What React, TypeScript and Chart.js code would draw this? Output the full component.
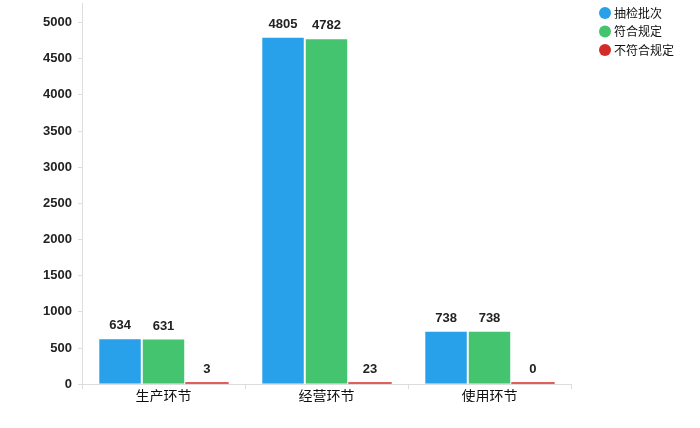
import { Chart, registerables } from "chart.js";
import { useEffect, useRef } from "react";

Chart.register(...registerables);

const categories = ["生产环节", "经营环节", "使用环节"];
const sampled = [634, 4805, 738];
const passed = [631, 4782, 738];
const failed = [3, 23, 0];
const seriesNames = ["抽检批次", "符合规定", "不符合规定"];
const colors = ["#29a0ea", "#45c46f", "#d42a2a"];
const yTicks = [0, 500, 1000, 1500, 2000, 2500, 3000, 3500, 4000, 4500, 5000];

const valueLabels = {
  id: "valueLabels",
  afterDatasetsDraw(chart: Chart) {
    const ctx = chart.ctx;
    ctx.save();
    ctx.font = "bold 13px Arial, 'Liberation Sans', sans-serif";
    ctx.fillStyle = "#222";
    ctx.textAlign = "center";
    ctx.textBaseline = "bottom";
    chart.data.datasets.forEach((ds, i) => {
      const meta = chart.getDatasetMeta(i);
      meta.data.forEach((bar: any, j) => {
        const v = ds.data[j] as number;
        const top = Math.min(bar.y, bar.base);
        ctx.fillText(String(v), bar.x, top - 6);
      });
    });
    ctx.restore();
  },
};

// legend drawn at the top right corner
const cornerLegend = {
  id: "cornerLegend",
  afterDraw(chart: Chart) {
    const ctx = chart.ctx;
    ctx.save();
    ctx.font = "12px 'Noto Sans CJK SC'";
    ctx.textBaseline = "middle";
    ctx.textAlign = "left";
    seriesNames.forEach((name, i) => {
      const y = 13 + i * 18.5;
      ctx.beginPath();
      ctx.arc(605, y, 6, 0, Math.PI * 2);
      ctx.fillStyle = colors[i];
      ctx.fill();
      ctx.fillStyle = "#111";
      ctx.fillText(name, 614, y);
    });
    ctx.restore();
  },
};

const BarChart = () => {
  const canvasRef = useRef<HTMLCanvasElement>(null);

  useEffect(() => {
    if (!canvasRef.current) return;
    const chart = new Chart(canvasRef.current, {
      type: "bar",
      data: {
        labels: categories,
        datasets: [sampled, passed, failed].map((d, i) => ({
          label: seriesNames[i],
          data: d,
          backgroundColor: colors[i],
          borderColor: "#ffffff",
          borderWidth: i === 2 ? 0 : 1,
          minBarLength: i === 2 ? 2 : 0,
          categoryPercentage: 0.8,
          barPercentage: 1,
        })),
      },
      options: {
        responsive: false,
        animation: false,
        layout: { padding: { top: 3, right: 129, bottom: 26, left: 0 } },
        plugins: {
          tooltip: { enabled: false },
          legend: { display: false },
        },
        scales: {
          x: {
            grid: {
              offset: true,
              drawOnChartArea: false,
              color: "#dddddd",
              tickLength: 5,
            },
            border: { color: "#dddddd" },
            ticks: {
              color: "#111",
              padding: -2,
              font: { family: "'Noto Sans CJK SC'", size: 14 },
            },
          },
          y: {
            min: 0,
            max: 5270,
            afterBuildTicks: (scale: any) => {
              scale.ticks = yTicks.map((v) => ({ value: v }));
            },
            afterFit: (scale: any) => {
              scale.width = 82;
              scale.paddingTop = 0;
            },
            grid: {
              drawOnChartArea: false,
              color: "#dddddd",
              tickLength: 4,
            },
            border: { color: "#dddddd" },
            ticks: {
              color: "#222",
              padding: 6,
              callback: (value: any) => String(value),
              font: { family: "Arial, 'Liberation Sans'", size: 13, weight: "bold" },
            },
          },
        },
      },
      plugins: [valueLabels, cornerLegend],
    });
    return () => chart.destroy();
  }, []);

  return <canvas ref={canvasRef} width={700} height={428} />;
};

export default function App() {
  useEffect(() => {
    document.body.style.margin = "0";
  }, []);
  return (
    <div style={{ width: 700, height: 428, background: "#fff" }}>
      <BarChart />
    </div>
  );
}
